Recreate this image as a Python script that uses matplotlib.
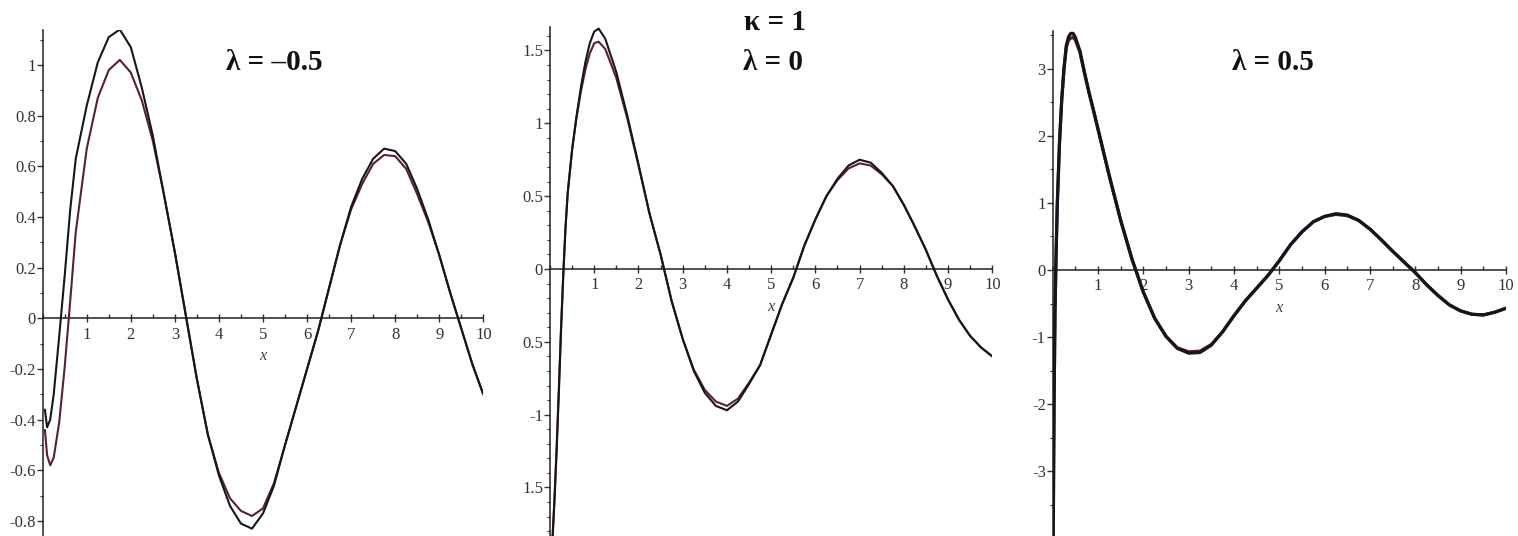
"""Three panels: exact vs. approximate solution for kappa = 1."""

import matplotlib.pyplot as plt
from matplotlib.ticker import MultipleLocator

FIG_W_PX, FIG_H_PX = 1518, 536
SERIF = "Liberation Serif"
BLACK = "#16141f"
RED = "#5a1f33"

# ---- lambda = -0.5 -------------------------------------------------------
x_neg = [0.05, 0.1, 0.17, 0.25, 0.375, 0.5, 0.625, 0.75,
         1.0, 1.25, 1.5, 1.75, 2.0, 2.25, 2.5, 2.75, 3.0, 3.25, 3.5, 3.75,
         4.0, 4.25, 4.5, 4.75, 5.0, 5.25, 5.5, 5.75, 6.0, 6.25, 6.5, 6.75,
         7.0, 7.25, 7.5, 7.75, 8.0, 8.25, 8.5, 8.75, 9.0, 9.25, 9.5, 9.75, 10.0]
black_neg = [-0.36, -0.43, -0.40, -0.30, -0.07, 0.17, 0.43, 0.63,
             0.84, 1.01, 1.11, 1.14, 1.07, 0.91, 0.72, 0.49, 0.26, 0.01, -0.24, -0.46,
             -0.62, -0.74, -0.81, -0.83, -0.77, -0.66, -0.50, -0.35, -0.20, -0.05, 0.12, 0.29,
             0.44, 0.55, 0.63, 0.67, 0.66, 0.61, 0.51, 0.39, 0.25, 0.10, -0.04, -0.18, -0.30]
red_neg = [-0.44, -0.54, -0.58, -0.55, -0.41, -0.19, 0.07, 0.34,
           0.67, 0.87, 0.98, 1.02, 0.97, 0.86, 0.70, 0.49, 0.26, 0.01, -0.24, -0.46,
           -0.61, -0.71, -0.76, -0.78, -0.75, -0.65, -0.50, -0.35, -0.20, -0.05, 0.12, 0.29,
           0.43, 0.53, 0.61, 0.645, 0.64, 0.59, 0.49, 0.38, 0.25, 0.10, -0.04, -0.18, -0.30]
yticks_neg = [1, 0.8, 0.6, 0.4, 0.2, 0, -0.2, -0.4, -0.6, -0.8]
ylabels_neg = ["1", "0.8", "0.6", "0.4", "0.2", "0", "-0.2", "-0.4", "-0.6", "-0.8"]

# ---- lambda = 0 ----------------------------------------------------------
x_zero = [0.05, 0.1, 0.15, 0.2, 0.25, 0.3, 0.35, 0.4, 0.5, 0.6, 0.7, 0.8, 0.9, 1.0, 1.1,
          1.25, 1.5, 1.75, 2.0, 2.25, 2.5, 2.75, 3.0, 3.25, 3.5, 3.75, 4.0, 4.25, 4.5, 4.75,
          5.0, 5.25, 5.5, 5.75, 6.0, 6.25, 6.5, 6.75, 7.0, 7.25, 7.5, 7.75, 8.0, 8.25, 8.5,
          8.75, 9.0, 9.25, 9.5, 9.75, 10.0]
black_zero = [-1.90, -1.60, -1.25, -0.85, -0.42, -0.05, 0.28, 0.52, 0.82, 1.05, 1.25, 1.42,
              1.55, 1.63, 1.65,
              1.58, 1.35, 1.05, 0.72, 0.38, 0.10, -0.22, -0.48, -0.70, -0.85, -0.94, -0.97,
              -0.91, -0.79, -0.66,
              -0.45, -0.24, -0.06, 0.16, 0.34, 0.50, 0.62, 0.71, 0.75, 0.73, 0.66, 0.57, 0.44,
              0.29, 0.13, -0.05, -0.21, -0.35, -0.46, -0.54, -0.60]
red_zero = [-1.88, -1.58, -1.22, -0.82, -0.40, -0.03, 0.28, 0.52, 0.82, 1.04, 1.22, 1.37,
            1.48, 1.55, 1.56,
            1.51, 1.31, 1.03, 0.71, 0.38, 0.10, -0.22, -0.48, -0.69, -0.83, -0.91, -0.94,
            -0.89, -0.78, -0.66,
            -0.45, -0.24, -0.06, 0.16, 0.34, 0.50, 0.61, 0.69, 0.725, 0.71, 0.65, 0.57, 0.44,
            0.29, 0.13, -0.05, -0.21, -0.35, -0.46, -0.54, -0.60]
yticks_zero = [1.5, 1, 0.5, 0, -0.5, -1, -1.5]
ylabels_zero = ["1.5", "1", "0.5", "0", "0.5", "-1", "1.5"]

# ---- lambda = 0.5 --------------------------------------------------------
x_pos = [0.01, 0.02, 0.03, 0.05, 0.075, 0.1, 0.15, 0.2, 0.25, 0.3, 0.35, 0.4, 0.45, 0.5,
         0.6, 0.7, 0.8, 0.9, 1.0,
         1.25, 1.5, 1.75, 2.0, 2.25, 2.5, 2.75, 3.0, 3.25, 3.5, 3.75, 4.0, 4.25, 4.5, 4.75,
         5.0, 5.25, 5.5, 5.75, 6.0, 6.25, 6.5, 6.75, 7.0, 7.25, 7.5, 7.75, 8.0, 8.25, 8.5,
         8.75, 9.0, 9.25, 9.5, 9.75, 10.0]
black_pos = [-4.20, -3.00, -2.00, -0.65, 0.25, 0.95, 1.90, 2.55, 3.02, 3.35, 3.48, 3.53, 3.53,
             3.47, 3.27, 2.95, 2.65, 2.38, 2.10,
             1.40, 0.74, 0.16, -0.33, -0.72, -0.99, -1.17, -1.24, -1.23, -1.12, -0.92, -0.68,
             -0.46, -0.27, -0.08,
             0.14, 0.38, 0.57, 0.72, 0.80, 0.84, 0.82, 0.74, 0.61, 0.45, 0.28, 0.12, -0.04,
             -0.22, -0.38, -0.52, -0.61, -0.66, -0.67, -0.63, -0.57]
red_pos = [-4.20, -3.00, -2.00, -0.65, 0.25, 0.95, 1.90, 2.55, 3.00, 3.32, 3.43, 3.46, 3.47,
           3.43, 3.25, 2.94, 2.65, 2.38, 2.10,
           1.40, 0.74, 0.16, -0.33, -0.72, -0.99, -1.16, -1.22, -1.21, -1.11, -0.92, -0.68,
           -0.46, -0.27, -0.08,
           0.14, 0.38, 0.57, 0.72, 0.80, 0.83, 0.81, 0.74, 0.61, 0.45, 0.28, 0.12, -0.04,
           -0.22, -0.38, -0.52, -0.61, -0.66, -0.67, -0.63, -0.57]
yticks_pos = [3, 2, 1, 0, -1, -2, -3]
ylabels_pos = ["3", "2", "1", "0", "-1", "-2", "-3"]

xticks = [1, 2, 3, 4, 5, 6, 7, 8, 9, 10]
xlabels = [str(t) for t in xticks]


def _add_panel(fig, box_px, ylim, x, black, red, yticks, ylabels, yminor, lw):
    """Add one Maple-style panel; box_px = (left, right, top, bottom) in pixels."""
    left, right, top, bottom = box_px
    ax = fig.add_axes([left / FIG_W_PX, 1 - bottom / FIG_H_PX,
                       (right - left) / FIG_W_PX, (bottom - top) / FIG_H_PX])
    ax.set_xlim(0, 10)
    ax.set_ylim(*ylim)
    ax.patch.set_visible(False)
    for side in ("top", "right"):
        ax.spines[side].set_visible(False)
    ax.spines["bottom"].set_position(("data", 0))
    ax.spines["left"].set_position(("data", 0))
    for side in ("bottom", "left"):
        ax.spines[side].set_color("#222222")
        ax.spines[side].set_linewidth(1.1)

    ax.set_xticks(xticks, xlabels)
    ax.set_yticks(yticks, ylabels)
    ax.xaxis.set_minor_locator(MultipleLocator(0.5))
    ax.yaxis.set_minor_locator(MultipleLocator(yminor))
    ax.tick_params(axis="x", which="major", direction="inout", length=6, width=1,
                   pad=3, labelsize=12, colors="#333333")
    ax.tick_params(axis="x", which="minor", direction="in", length=3, width=1,
                   colors="#333333")
    ax.tick_params(axis="y", which="major", direction="out", length=4, width=1,
                   pad=1, labelsize=12, colors="#333333")
    ax.tick_params(axis="y", which="minor", direction="out", length=2, width=0.8,
                   colors="#333333")
    for lab in ax.get_xticklabels() + ax.get_yticklabels():
        lab.set_family(SERIF)

    ax.plot(x, red, color=RED, lw=lw, solid_joinstyle="round",
            solid_capstyle="round", zorder=3)
    ax.plot(x, black, color=BLACK, lw=lw, solid_joinstyle="round",
            solid_capstyle="round", zorder=4)
    ax.annotate("x", xy=(5, 0), xytext=(0, -38), textcoords="offset pixels",
                ha="center", va="center", family=SERIF, style="italic",
                fontsize=12, color="#444444")
    return ax


fig = plt.figure(figsize=(FIG_W_PX / 100, FIG_H_PX / 100), dpi=100)

_add_panel(fig, (42.7, 483.3, 30, 536), (-0.859, 1.138),
           x_neg, black_neg, red_neg, yticks_neg, ylabels_neg, 0.1, 1.5)
_add_panel(fig, (550, 992.3, 27, 536), (-1.833, 1.661),
           x_zero, black_zero, red_zero, yticks_zero, ylabels_zero, 0.1, 1.5)
_add_panel(fig, (1052.7, 1506, 31, 536), (-3.967, 3.565),
           x_pos, black_pos, red_pos, yticks_pos, ylabels_pos, 0.5, 2.3)

title_kw = dict(ha="center", va="center", family=SERIF, fontweight="bold",
                fontsize=21, color="#111111")
fig.text(274 / FIG_W_PX, 1 - 63 / FIG_H_PX, "λ = –0.5", **title_kw)
fig.text(775 / FIG_W_PX, 1 - 22 / FIG_H_PX, "κ = 1", **title_kw)
fig.text(773 / FIG_W_PX, 1 - 63 / FIG_H_PX, "λ = 0", **title_kw)
fig.text(1273 / FIG_W_PX, 1 - 63 / FIG_H_PX, "λ = 0.5", **title_kw)

fig.savefig("out.png", dpi=100, facecolor="white")
plt.close(fig)
